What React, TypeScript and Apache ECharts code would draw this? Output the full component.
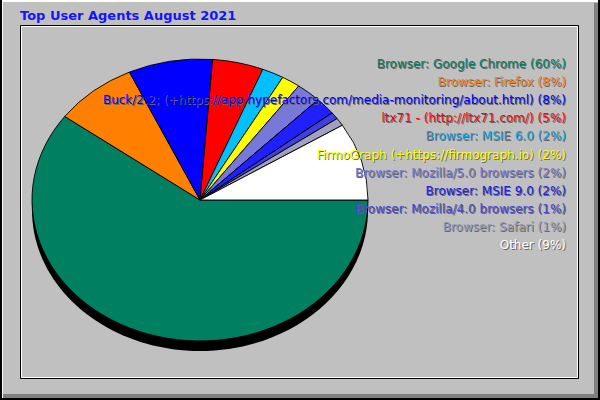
import React, { useEffect, useRef } from "react";
import * as echarts from "echarts";

const titleText = "Top User Agents August 2021";
const categories = [
  "Browser: Google Chrome",
  "Browser: Firefox",
  "Buck/2.2; (+https://app.hypefactors.com/media-monitoring/about.html)",
  "ltx71 - (http://ltx71.com/)",
  "Browser: MSIE 6.0",
  "FirmoGraph (+https://firmograph.io)",
  "Browser: Mozilla/5.0 browsers",
  "Browser: MSIE 9.0",
  "Browser: Mozilla/4.0 browsers",
  "Browser: Safari",
  "Other",
];
const values = [60.1, 8.0, 8.1, 4.9, 2.1, 1.8, 2.4, 2.0, 0.8, 0.9, 8.9];
const sliceColors = [
  "#008060", "#ff8000", "#0000ff", "#ff0000", "#00c0ff", "#ffff00",
  "#7878d8", "#2020ff", "#4040e0", "#a0a0c0", "#ffffff",
];
const textColors = [
  "#008060", "#ff8000", "#0000ff", "#ff0000", "#10a8e8", "#ffff00",
  "#7878c8", "#2020e0", "#4848d0", "#9898b0", "#ffffff",
];

const CX = 200;
const CY = 200;
const RX = 168;
const RY = 141;
const DEPTH = 10;

export default function App() {
  const ref = useRef<HTMLDivElement>(null);
  useEffect(() => {
    if (!ref.current) return;
    const chart = echarts.init(ref.current, null, { renderer: "svg" });
    const total = values.reduce((a, b) => a + b, 0);
    const cum: number[] = [];
    let acc = 0;
    values.forEach((v) => {
      cum.push(acc);
      acc += v;
    });
    const FONT = '12px "DejaVu Sans"';
    const legendEls: any[] = [];
    categories.forEach((name, i) => {
      const pct = Math.round((values[i] / total) * 100);
      const label = `${name} (${pct}%)`;
      const y = 64 + i * 18.1;
      legendEls.push({
        type: "text",
        z: 20,
        style: { text: label, x: 567, y: y + 1, align: "right", verticalAlign: "middle", fill: "#666666", font: FONT },
      });
      legendEls.push({
        type: "text",
        z: 21,
        style: { text: label, x: 566, y, align: "right", verticalAlign: "middle", fill: textColors[i], font: FONT },
      });
    });

    chart.setOption({
      animation: false,
      backgroundColor: "#c0c0c0",
      graphic: [
        // outer bevel
        { type: "rect", z: 0, shape: { x: 0, y: 0, width: 600, height: 2 }, style: { fill: "#ffffff" } },
        { type: "rect", z: 0, shape: { x: 2, y: 2, width: 1, height: 396 }, style: { fill: "#ffffff" } },
        { type: "rect", z: 0, shape: { x: 594, y: 3, width: 4, height: 395 }, style: { fill: "#808080" } },
        { type: "rect", z: 0, shape: { x: 3, y: 394, width: 595, height: 4 }, style: { fill: "#808080" } },
        { type: "rect", z: 0, shape: { x: 0, y: 0, width: 2, height: 400 }, style: { fill: "#000000" } },
        { type: "rect", z: 0, shape: { x: 598, y: 0, width: 2, height: 400 }, style: { fill: "#000000" } },
        { type: "rect", z: 0, shape: { x: 0, y: 398, width: 600, height: 2 }, style: { fill: "#000000" } },
        // inner frame
        { type: "rect", z: 0, shape: { x: 20.5, y: 25.5, width: 558, height: 353 }, style: { fill: "none", stroke: "#000000", lineWidth: 1 } },
        { type: "rect", z: 0, shape: { x: 21.5, y: 26.5, width: 556, height: 351 }, style: { fill: "none", stroke: "#ffffff", lineWidth: 1 } },
        // title
        {
          type: "text",
          z: 5,
          style: { text: titleText, x: 20, y: 15, verticalAlign: "middle", fill: "#1414ff", font: 'bold 13px "DejaVu Sans"' },
        },
        // pie depth
        { type: "ellipse", z: 1, shape: { cx: CX, cy: CY + DEPTH, rx: RX, ry: RY }, style: { fill: "#000000" } },
        ...legendEls,
      ],
      series: [
        {
          type: "custom",
          coordinateSystem: "none",
          z: 5,
          data: values.map((v, i) => ({ name: categories[i], value: v })),
          renderItem: (params: any, api: any) => {
            const i = params.dataIndex;
            const v = api.value(0);
            const start = (cum[i] / total) * Math.PI * 2;
            const end = start + (v / total) * Math.PI * 2;
            return {
              type: "sector",
              x: CX,
              y: CY,
              scaleY: RY / RX,
              shape: { cx: 0, cy: 0, r: RX, r0: 0, startAngle: start, endAngle: end, clockwise: true },
              style: { fill: sliceColors[i], stroke: "#000000", lineWidth: 1 },
            };
          },
        },
      ],
    });
    return () => chart.dispose();
  }, []);
  return <div ref={ref} style={{ position: "fixed", left: 0, top: 0, width: 600, height: 400 }} />;
}
